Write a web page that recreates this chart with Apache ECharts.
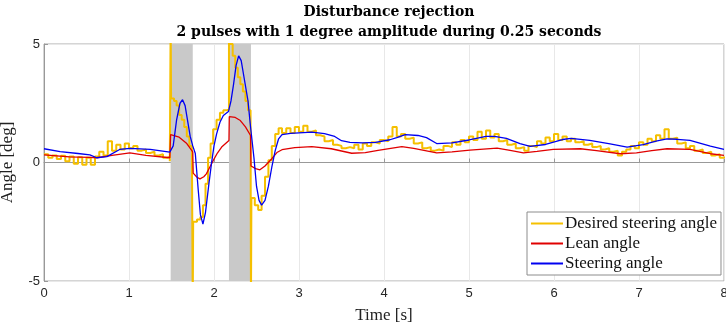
<!DOCTYPE html>
<html>
<head>
<meta charset="utf-8">
<script src="https://cdn.jsdelivr.net/npm/echarts@6/dist/echarts.min.js"></script>
<style>
  html, body { margin: 0; padding: 0; background: #fff; }
  #chart { width: 726px; height: 324px; }
</style>
</head>
<body>
<div id="chart"></div>
<script>
// ticks
var xTicks = [0, 1, 2, 3, 4, 5, 6, 7, 8];
var yTicks = [-5, 0, 5];

// disturbance pulses [start, end] in seconds
var pulseStart = [1.49, 2.176];
var pulseEnd = [1.75, 2.435];

// steering angle (blue)
var steerTime = [0, 0.19, 0.4, 0.54, 0.62, 0.74, 0.89, 1.01, 1.25, 1.48, 1.49, 1.52, 1.56, 1.6, 1.63, 1.66, 1.72, 1.75, 1.78, 1.815, 1.84, 1.87, 1.9, 1.94, 1.97, 2.0, 2.03, 2.07, 2.11, 2.17, 2.2, 2.23, 2.26, 2.29, 2.32, 2.36, 2.4, 2.43, 2.47, 2.5, 2.53, 2.56, 2.6, 2.64, 2.68, 2.72, 2.76, 2.8, 2.9, 3.0, 3.15, 3.3, 3.42, 3.5, 3.6, 3.75, 3.9, 4.07, 4.15, 4.25, 4.4, 4.5, 4.62, 4.8, 5.0, 5.2, 5.3, 5.44, 5.6, 5.72, 5.9, 6.1, 6.2, 6.42, 6.66, 6.86, 7.05, 7.2, 7.33, 7.45, 7.6, 7.84, 8.0];
var steerAngle = [0.58, 0.46, 0.38, 0.32, 0.2, 0.25, 0.55, 0.6, 0.55, 0.44, 0.44, 0.7, 1.8, 2.5, 2.65, 2.4, 1.1, 0.7, 0.38, -1.18, -2.2, -2.6, -2.1, -0.9, -0.05, 0.7, 1.2, 1.7, 1.98, 2.15, 2.6, 3.3, 4.1, 4.5, 4.3, 3.45, 2.6, 1.5, 0.2, -1.0, -1.6, -1.8, -1.6, -1.0, -0.2, 0.5, 1.0, 1.18, 1.23, 1.25, 1.28, 1.22, 1.1, 0.92, 0.85, 0.83, 0.85, 0.96, 1.05, 1.18, 1.14, 1.05, 0.8, 0.83, 0.95, 1.1, 1.1, 1.02, 0.8, 0.68, 0.76, 0.97, 1.02, 0.93, 0.79, 0.65, 0.75, 0.9, 1.0, 0.98, 0.93, 0.69, 0.55];

// lean angle (red)
var leanTime = [0, 0.3, 0.54, 0.62, 0.8, 1.01, 1.2, 1.48, 1.49, 1.59, 1.68, 1.75, 1.755, 1.8, 1.835, 1.88, 1.91, 1.95, 1.99, 2.04, 2.09, 2.176, 2.18, 2.25, 2.31, 2.37, 2.43, 2.435, 2.49, 2.54, 2.6, 2.68, 2.74, 2.8, 2.95, 3.15, 3.38, 3.62, 3.78, 3.93, 4.21, 4.35, 4.62, 4.8, 5.01, 5.33, 5.5, 5.64, 5.8, 5.99, 6.31, 6.5, 6.78, 6.97, 7.15, 7.33, 7.6, 7.84, 8.0];
var leanAngle = [0.32, 0.24, 0.22, 0.2, 0.3, 0.41, 0.3, 0.2, 1.18, 1.07, 0.8, 0.45, -0.45, -0.62, -0.69, -0.6, -0.48, -0.2, 0.08, 0.4, 0.65, 0.93, 1.94, 1.9, 1.77, 1.5, 1.14, -0.15, -0.26, -0.31, -0.15, 0.16, 0.42, 0.54, 0.63, 0.67, 0.58, 0.39, 0.42, 0.51, 0.67, 0.6, 0.41, 0.45, 0.52, 0.61, 0.5, 0.41, 0.47, 0.55, 0.58, 0.5, 0.37, 0.41, 0.5, 0.58, 0.55, 0.37, 0.3];

// desired steering angle (yellow, stepped)
var desiredTime = [0, 0.05, 0.1, 0.15, 0.2, 0.25, 0.3, 0.35, 0.4, 0.45, 0.5, 0.55, 0.6, 0.65, 0.7, 0.75, 0.8, 0.85, 0.9, 0.95,
  1.0, 1.05, 1.1, 1.15, 1.2, 1.25, 1.3, 1.35, 1.4, 1.45, 1.48,
  1.49, 1.495, 1.53, 1.56, 1.59, 1.62, 1.65, 1.68, 1.71, 1.74, 1.75, 1.755, 1.8, 1.84, 1.87, 1.9, 1.93, 1.96, 1.99, 2.03, 2.07, 2.11, 2.15,
  2.176, 2.19, 2.22, 2.25, 2.28, 2.31, 2.34, 2.37, 2.4, 2.43, 2.435, 2.44, 2.48, 2.52, 2.56, 2.6, 2.64, 2.68, 2.72, 2.76, 2.8,
  2.85, 2.9, 2.95, 3.0, 3.05, 3.1, 3.15, 3.2, 3.25, 3.3, 3.35, 3.4, 3.45, 3.5, 3.55, 3.6, 3.65, 3.7, 3.75, 3.8, 3.85, 3.9, 3.95,
  4.0, 4.05, 4.1, 4.15, 4.2, 4.25, 4.3, 4.35, 4.4, 4.45, 4.5, 4.55, 4.6, 4.65, 4.7, 4.75, 4.8, 4.85, 4.9, 4.95,
  5.0, 5.05, 5.1, 5.15, 5.2, 5.25, 5.3, 5.35, 5.4, 5.45, 5.5, 5.55, 5.6, 5.65, 5.7, 5.75, 5.8, 5.85, 5.9, 5.95,
  6.0, 6.05, 6.1, 6.15, 6.2, 6.25, 6.3, 6.35, 6.4, 6.45, 6.5, 6.55, 6.6, 6.65, 6.7, 6.75, 6.8, 6.85, 6.9, 6.95,
  7.0, 7.05, 7.1, 7.15, 7.2, 7.25, 7.3, 7.35, 7.4, 7.45, 7.5, 7.55, 7.6, 7.65, 7.7, 7.75, 7.8, 7.85, 7.9, 7.95, 8.0];
var desiredAngle = [0.35, 0.2, 0.3, 0.15, 0.28, 0.05, 0.25, -0.05, 0.22, -0.1, 0.2, -0.1, 0.25, 0.45, 0.3, 0.9, 0.5, 0.75, 0.55, 0.8,
  0.6, 0.7, 0.5, 0.55, 0.4, 0.45, 0.3, 0.35, 0.2, 0.25, 0.05,
  6, 2.7, 2.6, 2.4, 2.0, 1.8, 1.5, 1.1, 0.7, 0.4, -6, -2.5, -2.4, -2.3, -1.8, -0.9, 0.2, 0.8, 1.4, 1.8, 2.1, 2.2, 2.25,
  6, 5.0, 4.5, 4.0, 3.6, 3.3, 3.0, 2.6, 2.2, 1.8, -6, -1.5, -1.8, -2.0, -1.4, -0.6, 0.1, 0.7, 1.2, 1.45, 1.25,
  1.45, 1.25, 1.5, 1.3, 1.55, 1.3, 1.35, 1.15, 1.1, 0.9, 0.95, 0.75, 0.7, 0.6, 0.65, 0.6, 0.75, 0.55, 0.8, 0.7, 0.85, 0.8, 0.95,
  0.9, 1.1, 1.5, 1.1, 1.2, 1.0, 1.05, 0.8, 0.85, 0.6, 0.65, 0.5, 0.55, 0.5, 0.7, 0.65, 0.85, 0.75, 0.95, 0.85,
  1.1, 0.95, 1.3, 1.0, 1.35, 1.05, 1.2, 0.9, 0.95, 0.75, 0.8, 0.6, 0.65, 0.5, 0.7, 0.65, 0.9, 0.8, 1.05, 0.9,
  1.2, 0.95, 1.1, 0.9, 1.0, 0.85, 0.9, 0.75, 0.8, 0.65, 0.7, 0.55, 0.6, 0.45, 0.5, 0.3, 0.45, 0.55, 0.7, 0.6,
  0.85, 0.75, 1.0, 0.9, 1.15, 1.0, 1.4, 1.0, 1.05, 0.8, 0.85, 0.6, 0.7, 0.5, 0.55, 0.4, 0.45, 0.3, 0.35, 0.2, 0.25];

function pairs(t, v) {
  var out = [];
  for (var i = 0; i < t.length; i++) out.push([t[i], v[i]]);
  return out;
}

var pulseAreas = [];
for (var i = 0; i < pulseStart.length; i++) {
  pulseAreas.push([{ xAxis: pulseStart[i] }, { xAxis: pulseEnd[i] }]);
}

var serif = '"Liberation Serif", "DejaVu Serif", serif';
var sans = '"Liberation Sans", Arial, sans-serif';

var chart = echarts.init(document.getElementById('chart'));
var option = {
  animation: false,
  title: {
    text: 'Disturbance rejection\n2 pulses with 1 degree amplitude during 0.25 seconds',
    left: 384,
    textAlign: 'center',
    top: -3,
    textStyle: { fontFamily: '"DejaVu Serif", serif', fontWeight: 'bold', fontSize: 14, lineHeight: 20, color: '#000' }
  },
  legend: {
    data: ['Desired steering angle', 'Lean angle', 'Steering angle'],
    orient: 'vertical',
    left: 527,
    top: 212,
    padding: [3, 4, 3, 4],
    itemGap: 3,
    itemWidth: 32,
    itemHeight: 2,
    icon: 'rect',
    backgroundColor: '#fff',
    borderColor: '#8c8c8c',
    borderWidth: 1,
    borderRadius: 0,
    textStyle: { fontFamily: serif, fontSize: 17, lineHeight: 17, color: '#111', padding: [0, 0, 0, -3] }
  },
  grid: {
    left: 44, right: 2, top: 44, bottom: 43,
    outerBoundsMode: 'none',
    containLabel: false,
    show: true, borderColor: '#aaa', borderWidth: 1
  },
  xAxis: {
    type: 'value',
    min: xTicks[0],
    max: xTicks[xTicks.length - 1],
    interval: 1,
    name: 'Time [s]',
    nameLocation: 'middle',
    nameGap: 26,
    nameTextStyle: { fontFamily: serif, fontSize: 17, color: '#222' },
    axisLine: { lineStyle: { color: '#999' } },
    axisTick: { inside: true, length: 4, lineStyle: { color: '#999' } },
    axisLabel: { fontFamily: sans, fontSize: 13, color: '#262626', margin: 6 },
    splitLine: { show: true, lineStyle: { color: '#e8e8e8' } }
  },
  yAxis: {
    type: 'value',
    min: yTicks[0],
    max: yTicks[yTicks.length - 1],
    interval: 5,
    name: 'Angle [deg]',
    nameLocation: 'middle',
    nameGap: 28,
    nameMoveOverlap: false,
    nameTextStyle: { fontFamily: serif, fontSize: 17, color: '#222' },
    axisLine: { show: true, lineStyle: { color: '#999' } },
    axisTick: { show: true, inside: true, length: 4, lineStyle: { color: '#999' } },
    axisLabel: { fontFamily: sans, fontSize: 13, color: '#262626', margin: 4 },
    splitLine: { show: true, lineStyle: { color: '#e8e8e8' } }
  },
  series: [
    {
      name: 'pulses',
      type: 'line',
      data: [],
      silent: true,
      markArea: {
        silent: true,
        itemStyle: { color: '#c9c9c9' },
        data: pulseAreas
      },
      z: 1
    },
    {
      name: 'Desired steering angle',
      type: 'line',
      step: 'end',
      showSymbol: false,
      data: pairs(desiredTime, desiredAngle),
      lineStyle: { color: '#f5c000', width: 2 },
      itemStyle: { color: '#f5c000' },
      z: 2
    },
    {
      name: 'Lean angle',
      type: 'line',
      showSymbol: false,
      data: pairs(leanTime, leanAngle),
      lineStyle: { color: '#e00000', width: 1.3 },
      itemStyle: { color: '#e00000' },
      z: 3
    },
    {
      name: 'Steering angle',
      type: 'line',
      showSymbol: false,
      data: pairs(steerTime, steerAngle),
      lineStyle: { color: '#0000f0', width: 1.3 },
      itemStyle: { color: '#0000f0' },
      z: 4
    }
  ]
};
chart.setOption(option);
</script>
</body>
</html>
